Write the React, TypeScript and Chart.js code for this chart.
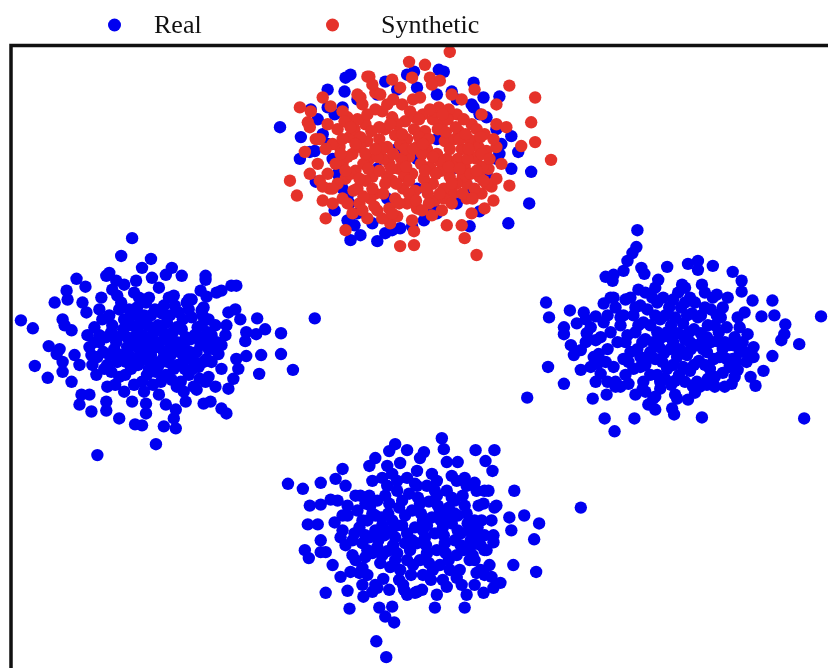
import { useEffect, useRef } from "react";
import { Chart, registerables } from "chart.js";

Chart.register(...registerables);

type P = [number, number];

const seriesNames = ["Real", "Synthetic"];
const seriesColors = ["#0000f0", "#e5322a"];

// Embedding coordinates (x to the right, y downward).
const realLeft: P[] = [
  [133,240],[122,258],[152,261],[143,270],[173,270],[77,281],[86,289],[67,293],[55,305],[68,302],[21,323],[33,331],[49,349],[35,369],[48,381],[63,375],[72,385],[82,398],[80,408],[92,415],[107,414],[120,422],[136,428],[143,429],[165,430],[177,432],[157,448],[98,459],[317,321],[295,373],[283,336],[283,357],[261,377],[263,358],[259,321],[267,332],[258,337],[248,335],[247,344],[248,359],[238,362],[240,372],[235,382],[230,392],[223,372],[217,390],[212,405],[205,407],[223,412],[228,417],[198,393],[187,405],[177,413],[167,408],[175,422],[147,417],[147,407],[133,405],[107,405],[90,398],[238,288],[233,288],[223,293],[218,295],[208,299],[207,282],[207,278],[202,293],[183,278],[167,277],[153,280],[137,283],[125,287],[117,283],[107,278],[110,275],[113,292],[102,300],[83,305],[87,315],[63,322],[65,328],[72,333],[60,352],[57,357],[63,365],[75,358],[80,368],[230,315],[237,312],[242,322],[228,328],[227,338],[223,348],[220,357],[210,322],[203,313],[210,352],[193,302],
  [95,330],[100,345],[98,360],[105,372],[110,318],[112,335],[115,352],[118,365],[120,380],[122,305],[125,322],[128,340],[130,358],[132,372],[135,388],[138,310],[140,328],[142,345],[145,362],[148,378],[150,300],[152,318],[155,335],[158,350],[160,368],[162,385],[165,308],[168,325],[170,342],[172,358],[175,372],[178,390],[180,315],[183,332],[185,348],[188,362],[190,378],[193,320],[196,338],[198,355],[200,370],[203,328],[206,345],[208,362],[210,380],[213,338],[215,352],[90,350],[93,368],[108,390],[125,395],[145,395],[160,398],[185,395],[100,312],[118,298],[135,295],[160,290],[175,298],[190,302],[205,310],[140,352],[150,340],[165,355],[128,350],[112,375],[195,390],[178,345],[155,365],[145,318],[132,328],
  [103,322],[107,340],[110,358],[116,388],[120,312],[124,332],[127,365],[133,318],[137,338],[139,368],[143,385],[147,305],[149,328],[152,358],[157,375],[163,316],[166,340],[169,365],[173,383],[176,308],[178,330],[181,355],[186,372],[190,312],[192,342],[196,365],[201,382],[204,318],[209,335],[213,365],[218,345],[217,328],[88,338],[92,358],[97,378],
  [100,338],[104,355],[108,368],[113,328],[117,345],[121,358],[126,378],[130,312],[134,348],[136,362],[141,320],[144,338],[146,355],[150,372],[154,388],[156,312],[159,328],[161,345],[164,362],[167,378],[171,318],[174,335],[177,352],[179,368],[182,385],[184,322],[187,340],[191,355],[194,372],[199,330],[202,348],[205,365],[211,348],[207,385],[188,305],[140,300],[170,300],[95,345],[118,340],[155,345],[172,348],[200,340],[130,342],[147,350],[163,332],[185,360],
];

const realTop: P[] = [
  [282,128],[303,138],[302,160],[312,153],[317,152],[318,183],[330,90],[347,92],[348,78],[353,75],[388,82],[410,75],[417,72],[442,70],[447,72],[455,92],[477,83],[487,98],[503,97],[483,115],[515,137],[522,153],[515,170],[535,173],[533,205],[512,225],[503,155],[337,212],[350,222],[357,227],[363,237],[353,242],[380,243],[388,235],[403,230],[427,222],[437,210],[350,198],[337,115],[330,108],[313,110],[467,198],[483,213],[473,228],[477,108],
  [320,120],[325,135],[330,145],[335,160],[340,175],[345,190],[352,205],[360,215],[375,225],[395,232],[415,228],[440,215],[460,205],[475,190],[490,175],[500,160],[505,145],[500,130],[490,118],[475,105],[460,100],[440,95],[420,88],[400,90],[380,95],[360,100],[345,108],[400,150],[420,160],[380,170],[440,140],[360,140],[420,190],[390,200],[455,170],
];

const realRight: P[] = [
  [642,232],[641,249],[637,255],[632,263],[628,273],[618,277],[610,279],[617,283],[646,270],[649,276],[672,269],[693,266],[703,263],[703,272],[718,268],[738,274],[747,283],[747,294],[758,303],[778,303],[780,318],[767,319],[791,327],[790,337],[787,343],[805,347],[827,319],[778,359],[769,374],[761,389],[756,380],[759,360],[759,350],[810,422],[737,387],[720,390],[707,421],[679,418],[677,412],[693,403],[660,413],[653,408],[639,422],[609,422],[619,435],[597,402],[611,398],[568,387],[531,401],[552,370],[585,373],[550,305],[553,320],[574,313],[568,330],[568,337],[581,326],[591,336],[590,322],[600,319],[608,306],[575,348],[578,358],[585,353],[600,343],[603,357],[602,367],[605,377],[620,390],[633,387],[647,393],[658,402],[682,402],[712,388],[743,373],[750,355],[753,337],[743,320],[750,315],[733,300],[722,297],[707,287],[687,287],[663,282],[643,292],[630,302],[618,300],
  [620,310],[625,328],[622,345],[628,362],[630,378],[635,300],[638,318],[640,335],[642,352],[645,370],[648,385],[650,295],[652,312],[655,328],[658,345],[660,362],[662,378],[665,392],[668,300],[670,318],[672,335],[675,352],[678,368],[680,384],[683,295],[686,310],[688,326],[690,342],[692,358],[695,374],[698,390],[700,305],[703,320],[706,336],[708,352],[710,368],[713,382],[716,312],[720,328],[722,344],[725,360],[728,376],[732,330],[735,348],[738,362],[615,335],[612,352],[618,370],[625,390],[640,398],[660,400],[680,398],[700,396],[730,390],[740,340],[745,355],[612,318],[728,310],[660,290],[690,290],[710,295],
  [628,318],[632,338],[635,355],[638,372],[645,308],[648,325],[650,342],[652,360],[655,378],[662,305],[665,322],[667,340],[669,356],[672,372],[676,388],[678,302],[680,320],[683,336],[685,352],[688,370],[695,300],[697,316],[699,332],[701,348],[704,364],[710,310],[713,328],[716,345],[719,362],[726,320],[730,345],[735,370],[620,385],
  [625,320],[630,345],[633,365],[640,310],[643,328],[647,345],[650,368],[657,300],[660,318],[662,335],[664,350],[667,365],[670,382],[674,310],[676,328],[678,345],[682,360],[684,378],[690,305],[692,318],[694,335],[696,352],[699,368],[702,385],[706,318],[708,342],[712,355],[715,372],[718,300],[722,318],[724,335],[728,352],[732,362],[738,348],[742,365],[655,355],[675,340],[695,345],[712,340],[645,360],
  [590,345],[595,330],[598,360],[605,340],[608,325],[610,365],[612,385],[595,370],[588,315],[600,385],[615,300],[745,330],[748,345],[740,380],[752,365],[720,380],[705,390],[690,385],[665,385],[650,395],
];

const realBottom: P[] = [
  [445,442],[447,453],[398,448],[392,455],[410,454],[427,456],[423,462],[378,462],[372,470],[403,467],[390,470],[345,473],[338,483],[479,454],[498,454],[489,465],[496,475],[461,466],[450,466],[290,488],[305,493],[323,487],[348,490],[333,504],[312,510],[323,509],[310,529],[320,529],[323,545],[307,555],[311,563],[323,557],[328,557],[335,570],[343,582],[350,596],[328,598],[352,614],[382,613],[395,612],[388,622],[397,628],[379,647],[389,663],[366,602],[375,597],[438,613],[440,600],[468,613],[487,598],[497,593],[504,588],[495,582],[484,575],[473,565],[460,583],[517,570],[540,577],[538,544],[543,528],[528,520],[518,495],[585,512],[513,522],[515,535],[498,512],[497,547],[488,555],[488,495],[478,487],[468,482],[487,508],[350,520],[357,538],[365,590],[380,593],[407,595],[420,597],[365,573],[353,577],[343,542],[337,527],
  [360,515],[362,532],[365,548],[368,562],[372,500],[375,518],[378,535],[380,552],[383,568],[386,584],[390,490],[392,508],[395,525],[398,542],[400,558],[403,575],[406,590],[410,482],[412,498],[415,515],[418,532],[420,548],[423,565],[426,580],[430,490],[432,506],[435,522],[438,538],[440,555],[443,570],[446,585],[450,495],[452,512],[455,528],[458,545],[460,560],[463,575],[466,500],[470,518],[472,535],[475,550],[478,565],[482,510],[485,525],[488,540],[490,555],[358,500],[355,560],[362,578],[375,485],[395,478],[435,478],[455,480],[470,490],[480,578],[425,595],[410,600],[345,520],[348,550],[340,505],[470,600],
  [368,508],[370,525],[372,542],[375,558],[380,505],[384,522],[387,540],[390,556],[393,572],[400,495],[402,512],[405,530],[408,548],[410,565],[414,580],[420,490],[423,508],[426,525],[428,542],[430,558],[436,575],[440,500],[443,515],[446,532],[448,548],[452,565],[458,505],[461,520],[464,538],[467,555],[478,525],[480,542],
  [365,525],[368,540],[370,555],[373,510],[378,520],[381,545],[385,560],[388,500],[391,518],[394,535],[396,550],[398,565],[402,585],[405,505],[408,520],[410,538],[413,555],[416,570],[418,488],[421,502],[424,518],[426,535],[429,550],[432,568],[434,585],[438,495],[441,510],[444,525],[447,540],[449,558],[453,575],[455,502],[458,518],[461,535],[464,550],[468,510],[471,528],[474,545],[476,560],[481,532],[484,550],[415,545],[400,530],[430,530],[450,520],[385,530],
  [345,535],[350,510],[355,545],[358,565],[363,500],[370,580],[378,590],[392,595],[418,598],[450,592],[465,590],[478,590],[488,580],[493,570],[495,525],[497,540],[500,510],[492,495],[480,495],[460,485],[440,485],[420,475],[400,485],[385,482],
];

const synthetic: P[] = [
  [453,52],[412,62],[428,65],[372,77],[433,78],[443,81],[513,86],[539,98],[478,90],[535,123],[539,143],[525,147],[555,161],[513,187],[497,202],[488,210],[500,105],[500,125],[510,128],[302,108],[313,112],[325,98],[333,107],[310,123],[312,128],[307,153],[292,182],[299,197],[312,175],[322,182],[325,202],[332,190],[328,220],[348,232],[370,77],[378,93],[363,98],[403,248],[417,247],[417,233],[468,240],[465,227],[480,257],[435,217],[450,227],[393,225],[370,220],
  [340,130],[342,148],[345,165],[348,180],[350,118],[352,138],[355,155],[358,172],[360,190],[362,205],[365,105],[368,125],[370,142],[372,160],[375,178],[378,195],[380,212],[383,95],[385,112],[388,130],[390,148],[392,165],[395,182],[398,200],[400,218],[403,88],[405,105],[408,122],[410,140],[412,158],[415,175],[418,192],[420,210],[423,98],[426,115],[428,132],[430,150],[433,168],[436,185],[438,202],[442,108],[445,125],[448,142],[450,160],[453,178],[456,195],[460,115],[462,132],[465,150],[468,168],[470,185],[475,125],[478,142],[480,160],[483,178],[488,135],[490,152],[492,170],[495,188],[335,145],[338,165],[330,175],[345,200],[355,215],[385,220],[415,222],[445,212],[470,200],[485,195],[395,80],[415,78],[435,85],[455,95],[375,85],[360,95],[345,112],[485,115],[465,100],[475,215],[500,148],[505,165],[500,180],[320,165],[318,140],[330,125],
  [347,122],[357,130],[363,148],[366,165],[368,182],[373,200],[378,110],[382,128],[386,160],[390,178],[395,118],[398,136],[402,170],[406,190],[410,205],[413,112],[417,130],[420,148],[424,165],[427,180],[431,195],[436,120],[440,155],[444,172],[447,190],[452,110],[458,140],[461,160],[466,178],[472,140],[476,158],[482,148],[486,168],[328,150],[322,140],[325,188],[335,205],
  [345,140],[350,158],[353,175],[356,192],[360,120],[363,138],[368,155],[371,170],[375,190],[377,208],[382,140],[385,150],[388,185],[392,210],[396,100],[400,125],[403,145],[404,160],[407,178],[412,195],[416,100],[418,118],[422,138],[425,155],[428,172],[432,205],[438,112],[441,130],[443,162],[447,200],[451,120],[453,150],[456,168],[460,185],[463,140],[467,120],[471,160],[474,175],[478,190],[480,130],[485,155],[490,185],[394,170],[408,150],[380,158],[432,140],
  [343,155],[348,172],[353,128],[358,145],[362,180],[366,198],[370,115],[374,132],[378,150],[382,172],[386,195],[390,105],[393,125],[396,155],[399,185],[402,205],[405,135],[409,168],[412,182],[416,150],[419,202],[422,120],[426,145],[429,190],[433,110],[436,158],[439,175],[443,195],[446,115],[449,133],[452,168],[455,185],[459,128],[463,170],[466,195],[469,135],[472,150],[476,200],[480,172],[484,138],[487,182],[493,160],[497,140],[340,185],[335,190],[350,205],[365,212],[395,215],[425,212],[455,205],
];

const toPoints = (arr: P[]) => arr.map(([x, y]) => ({ x, y }));

export default function App() {
  const ref = useRef<HTMLCanvasElement>(null);

  useEffect(() => {
    if (!ref.current) return;

    const framePlugin = {
      id: "frame",
      afterDraw(chart: any) {
        const { ctx, chartArea } = chart;
        ctx.save();
        ctx.strokeStyle = "#111111";
        ctx.lineWidth = 3.5;
        ctx.strokeRect(chartArea.left, chartArea.top, chartArea.right - chartArea.left, chartArea.bottom - chartArea.top);
        ctx.restore();
      },
    };

    const legendPlugin = {
      id: "topLegend",
      afterDraw(chart: any) {
        const ctx = chart.ctx;
        const spots = [
          { dot: 114.5, text: 154 },
          { dot: 332.5, text: 381 },
        ];
        ctx.save();
        chart.data.datasets.forEach((ds: any) => {
          const idx = seriesNames.indexOf(ds.label);
          const s = spots[idx];
          ctx.fillStyle = ds.backgroundColor;
          ctx.beginPath();
          ctx.arc(s.dot, 25, 6.5, 0, Math.PI * 2);
          ctx.fill();
          ctx.fillStyle = "#111111";
          ctx.font = '26px "Liberation Serif", "Times New Roman", serif';
          ctx.textBaseline = "alphabetic";
          ctx.textAlign = "left";
          ctx.fillText(ds.label, s.text, 33);
        });
        ctx.restore();
      },
    };

    const chart = new Chart(ref.current, {
      type: "scatter",
      data: {
        datasets: [
          {
            label: seriesNames[0],
            data: toPoints([...realLeft, ...realTop, ...realRight, ...realBottom]),
            backgroundColor: seriesColors[0],
            pointRadius: 6.2,
            pointBorderWidth: 0,
            pointHoverRadius: 6.2,
            order: 1,
            clip: false,
          },
          {
            label: seriesNames[1],
            data: toPoints(synthetic),
            backgroundColor: seriesColors[1],
            pointRadius: 6.2,
            pointBorderWidth: 0,
            pointHoverRadius: 6.2,
            order: 0,
            clip: false,
          },
        ],
      },
      options: {
        animation: false,
        responsive: false,
        devicePixelRatio: 1,
        layout: { padding: { left: 11, top: 45.5, right: 0, bottom: 0 } },
        plugins: { legend: { display: false }, tooltip: { enabled: false } },
        scales: {
          x: { type: "linear", min: 11, max: 860, display: false },
          y: { type: "linear", min: 45.5, max: 700, reverse: true, display: false },
        },
      },
      plugins: [framePlugin, legendPlugin],
    });

    return () => chart.destroy();
  }, []);

  return (
    <div style={{ position: "fixed", left: 0, top: 0, width: 860, height: 700, background: "#ffffff" }}>
      <canvas ref={ref} width={860} height={700} style={{ display: "block" }} />
    </div>
  );
}
